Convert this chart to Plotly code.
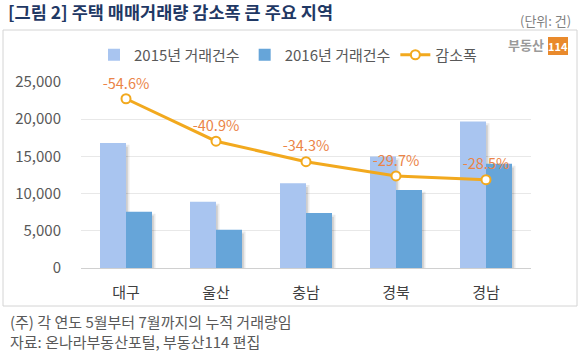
import plotly.graph_objects as go

regions = ["대구", "울산", "충남", "경북", "경남"]
deals_2015 = [16800, 8900, 11400, 15000, 19700]
deals_2016 = [7550, 5150, 7400, 10500, 14000]
drop_rate = [-54.6, -40.9, -34.3, -29.7, -28.5]
y_ticks = [0, 5000, 10000, 15000, 20000, 25000]
notes = ["(주) 각 연도 5월부터 7월까지의 누적 거래량임", "자료: 온나라부동산포털, 부동산114 편집"]

FONT = "Noto Sans CJK KR"
W, H = 580, 351
L, R, T, B = 81, 531, 82, 268  # plot area in px
CAT_PX = (R - L) / len(regions)
BW = 26 / CAT_PX          # bar width in category units
SH = 3.5 / CAT_PX         # shadow shift
SH_Y = 250                # shadow drop (data units)


def px(x, y):
    return (x - L) / (R - L), (B - y) / (B - T)


fig = go.Figure()
# soft shadows
for vals, off in ((deals_2015, -BW), (deals_2016, 0)):
    fig.add_trace(go.Bar(x=regions, y=[v - SH_Y for v in vals], width=BW, offset=off + SH,
                         marker=dict(color="rgba(0,0,0,0.08)", line=dict(width=0)),
                         showlegend=False, hoverinfo="skip"))
    fig.add_trace(go.Bar(x=regions, y=[v - SH_Y * 2 for v in vals], width=BW, offset=off + SH / 2,
                         marker=dict(color="rgba(0,0,0,0.12)", line=dict(width=0)),
                         showlegend=False, hoverinfo="skip"))
fig.add_trace(go.Bar(x=regions, y=deals_2015, name="2015년 거래건수", width=BW, offset=-BW,
                     marker=dict(color="#A9C5F0", line=dict(width=0))))
fig.add_trace(go.Bar(x=regions, y=deals_2016, name="2016년 거래건수", width=BW, offset=0,
                     marker=dict(color="#66A5D9", line=dict(width=0))))
fig.add_trace(go.Scatter(x=regions, y=drop_rate, name="감소폭", yaxis="y2",
                         mode="lines+markers+text",
                         line=dict(color="#F2A91E", width=3),
                         marker=dict(size=9, color="white", line=dict(color="#F2A91E", width=2)),
                         text=[f"{v:.1f}%" for v in drop_rate],
                         textposition="top center",
                         textfont=dict(family=FONT, size=14.5, color="#EB8447"),
                         cliponaxis=False))

annotations = []
x0, y0 = px(8, 331)
annotations.append(dict(text="<br>".join(notes), x=x0, y=y0, align="left",
                        xref="paper", yref="paper", xanchor="left", yanchor="middle",
                        showarrow=False, font=dict(family=FONT, size=15, color="#595959")))
x0, y0 = px(573, 20)
annotations.append(dict(text="(단위: 건)", x=x0, y=y0,
                        xref="paper", yref="paper", xanchor="right", yanchor="middle",
                        showarrow=False, font=dict(family=FONT, size=13, color="#808080")))
x0, y0 = px(546, 45)
annotations.append(dict(text="<b>부동산</b>", x=x0, y=y0,
                        xref="paper", yref="paper", xanchor="right", yanchor="middle",
                        showarrow=False, font=dict(family=FONT, size=13, color="#9a9a9a")))
x0, y0 = px(558, 46)
annotations.append(dict(text="<b>114</b>", x=x0, y=y0,
                        xref="paper", yref="paper", xanchor="center", yanchor="middle",
                        showarrow=False, font=dict(family=FONT, size=11, color="white")))

shapes = []
bx0, by0 = px(3, 306)
bx1, by1 = px(577, 30)
shapes.append(dict(type="rect", xref="paper", yref="paper", x0=bx0, y0=by0, x1=bx1, y1=by1,
                   line=dict(color="#d4d4d4", width=1), layer="below"))
lx0, ly0 = px(548, 55)
lx1, ly1 = px(568, 37)
shapes.append(dict(type="rect", xref="paper", yref="paper", x0=lx0, y0=ly0, x1=lx1, y1=ly1,
                   line=dict(width=0), fillcolor="#E98A2C", layer="below"))

lgx, lgy = px(94, 55)
fig.update_layout(
    width=W, height=H,
    margin=dict(l=L, r=W - R, t=T, b=H - B, pad=0),
    paper_bgcolor="white", plot_bgcolor="white",
    barmode="overlay",
    title=dict(text="<b>[그림 2] 주택 매매거래량 감소폭 큰 주요 지역</b>",
               x=8 / W, y=1 - 13 / H, xref="container", yref="container",
               xanchor="left", yanchor="middle",
               font=dict(family=FONT, size=17.5, color="#1F3864")),
    font=dict(family=FONT, size=14, color="#595959"),
    xaxis=dict(showgrid=False, showline=True, linecolor="#d0d0d0", linewidth=1,
               ticks="", tickfont=dict(size=15, color="#404040"), ticklabelstandoff=11),
    yaxis=dict(range=[0, 25000], tickvals=y_ticks, tickformat=",d",
               showgrid=True, gridcolor="#e8e8e8", gridwidth=1, zeroline=False,
               showline=False, ticks="", ticklabelstandoff=19,
               tickfont=dict(size=15, color="#595959")),
    yaxis2=dict(range=[0, -60], overlaying="y", side="right", visible=False,
                showgrid=False, zeroline=False),
    legend=dict(orientation="h", x=lgx, y=lgy, xanchor="left", yanchor="middle",
                font=dict(family=FONT, size=15, color="#595959"),
                bgcolor="rgba(0,0,0,0)", itemwidth=30, traceorder="normal"),
    annotations=annotations, shapes=shapes,
    showlegend=True,
)

fig.write_html("out.html")
